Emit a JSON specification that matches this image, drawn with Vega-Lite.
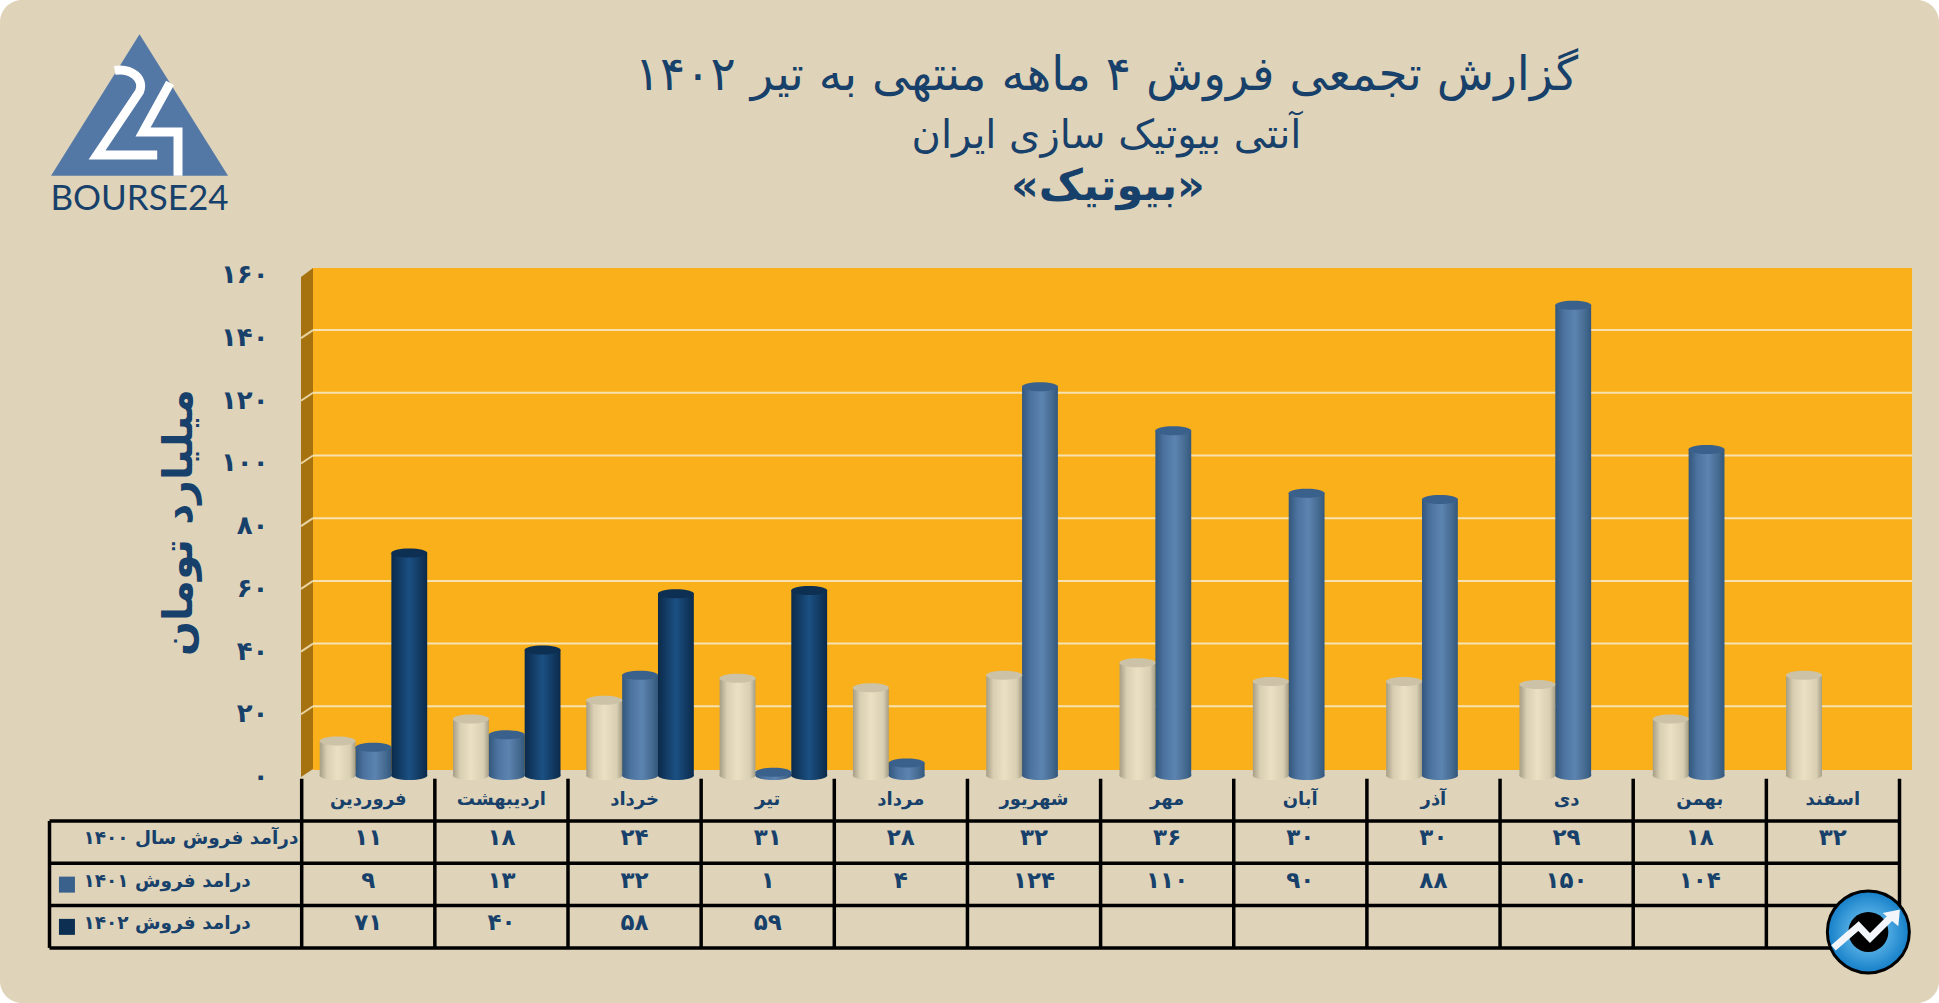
{
"$schema":"https://vega.github.io/schema/vega-lite/v6.json",
"width":1939,"height":1003,"padding":0,"autosize":{"type":"none"},
"background":"#ffffff",
"view":{"fill":"#DFD4B9","stroke":null,"cornerRadius":22},
"title":{"text":"گزارش تجمعی فروش ۴ ماهه منتهی به تیر ۱۴۰۲","subtitle":"آنتی بیوتیک سازی ایران","anchor":"middle","frame":"group","orient":"top","offset":-157,"dx":137,"font":"DejaVu Sans","fontSize":47,"fontWeight":"normal","color":"#17406A","subtitleFont":"DejaVu Sans","subtitleFontSize":40,"subtitleColor":"#17406A","subtitlePadding":16},
"datasets":{
"sales":[
{"month":"فروردین","series":"1400","value":11,"fa":"۱۱"},{"month":"اردیبهشت","series":"1400","value":18,"fa":"۱۸"},{"month":"خرداد","series":"1400","value":24,"fa":"۲۴"},{"month":"تیر","series":"1400","value":31,"fa":"۳۱"},{"month":"مرداد","series":"1400","value":28,"fa":"۲۸"},{"month":"شهریور","series":"1400","value":32,"fa":"۳۲"},{"month":"مهر","series":"1400","value":36,"fa":"۳۶"},{"month":"آبان","series":"1400","value":30,"fa":"۳۰"},{"month":"آذر","series":"1400","value":30,"fa":"۳۰"},{"month":"دی","series":"1400","value":29,"fa":"۲۹"},{"month":"بهمن","series":"1400","value":18,"fa":"۱۸"},{"month":"اسفند","series":"1400","value":32,"fa":"۳۲"},
{"month":"فروردین","series":"1401","value":9,"fa":"۹"},{"month":"اردیبهشت","series":"1401","value":13,"fa":"۱۳"},{"month":"خرداد","series":"1401","value":32,"fa":"۳۲"},{"month":"تیر","series":"1401","value":1,"fa":"۱"},{"month":"مرداد","series":"1401","value":4,"fa":"۴"},{"month":"شهریور","series":"1401","value":124,"fa":"۱۲۴"},{"month":"مهر","series":"1401","value":110,"fa":"۱۱۰"},{"month":"آبان","series":"1401","value":90,"fa":"۹۰"},{"month":"آذر","series":"1401","value":88,"fa":"۸۸"},{"month":"دی","series":"1401","value":150,"fa":"۱۵۰"},{"month":"بهمن","series":"1401","value":104,"fa":"۱۰۴"},
{"month":"فروردین","series":"1402","value":71,"fa":"۷۱"},{"month":"اردیبهشت","series":"1402","value":40,"fa":"۴۰"},{"month":"خرداد","series":"1402","value":58,"fa":"۵۸"},{"month":"تیر","series":"1402","value":59,"fa":"۵۹"}
],
"months":[{"month":"فروردین","row":"h"},{"month":"اردیبهشت","row":"h"},{"month":"خرداد","row":"h"},{"month":"تیر","row":"h"},{"month":"مرداد","row":"h"},{"month":"شهریور","row":"h"},{"month":"مهر","row":"h"},{"month":"آبان","row":"h"},{"month":"آذر","row":"h"},{"month":"دی","row":"h"},{"month":"بهمن","row":"h"},{"month":"اسفند","row":"h"}]
},
"resolve":{"scale":{"x":"independent","y":"independent"},"axis":{"x":"independent","y":"independent"}},
"layer":[
{"data":{"values":[{"c":-0.005,"t":158.2,"b":-1.3},{"c":0.085,"t":161.1,"b":1.3}]},"mark":{"type":"area","color":"#A6720F","clip":false},
"encoding":{"x":{"field":"c","type":"quantitative","axis":null,"scale":{"type":"linear","domain":[-2.2658,12.2966],"range":[0,1939],"nice":false,"zero":false}},"y":{"field":"t","type":"quantitative","axis":null,"scale":{"type":"linear","domain":[-73.37,246.57],"range":[1003,0],"nice":false,"zero":false}},"y2":{"field":"b"}}},
{"data":{"values":[{}]},"mark":{"type":"rect","color":"#FAB01A"},
"encoding":{"x":{"datum":0.085,"type":"quantitative","axis":null,"scale":{"type":"linear","domain":[-2.2658,12.2966],"range":[0,1939],"nice":false,"zero":false}},"x2":{"datum":12.094},"y":{"datum":161.1,"type":"quantitative","axis":null,"scale":{"type":"linear","domain":[-73.37,246.57],"range":[1003,0],"nice":false,"zero":false}},"y2":{"datum":0.96}}},
{"data":{"values":[{"v":20},{"v":40},{"v":60},{"v":80},{"v":100},{"v":120},{"v":140}]},"mark":{"type":"rule","color":"#F5E2B0","strokeWidth":2,"yOffset":-4},
"encoding":{"x":{"datum":0.085,"type":"quantitative","axis":null,"scale":{"type":"linear","domain":[-2.2658,12.2966],"range":[0,1939],"nice":false,"zero":false}},"x2":{"datum":12.094},"y":{"field":"v","type":"quantitative","axis":null,"scale":{"type":"linear","domain":[-73.37,246.57],"range":[1003,0],"nice":false,"zero":false}}}},
{"data":{"values":[{"v":20},{"v":40},{"v":60},{"v":80},{"v":100},{"v":120},{"v":140}]},"mark":{"type":"rule","color":"#E8D3A0","strokeWidth":2,"yOffset":4,"y2Offset":-4},
"encoding":{"x":{"datum":-0.005,"type":"quantitative","axis":null,"scale":{"type":"linear","domain":[-2.2658,12.2966],"range":[0,1939],"nice":false,"zero":false}},"x2":{"datum":0.085},"y":{"field":"v","type":"quantitative","axis":null,"scale":{"type":"linear","domain":[-73.37,246.57],"range":[1003,0],"nice":false,"zero":false}},"y2":{"field":"v"}}},
{"data":{"name":"sales"},"mark":{"type":"point","filled":true,"opacity":1,"shape":"M-1,0A1,.25 0 1,0 1,0A1,.25 0 1,0 -1,0Z","size":1296},
"encoding":{"x":{"field":"month","type":"nominal","axis":null,"scale":{"type":"band","domain":["فروردین","اردیبهشت","خرداد","تیر","مرداد","شهریور","مهر","آبان","آذر","دی","بهمن","اسفند"],"range":[301.7,1901.4],"paddingInner":0,"paddingOuter":0}},"xOffset":{"field":"series","type":"nominal","scale":{"domain":["1400","1401","1402"],"range":[18,125.5]}},"y":{"datum":0,"type":"quantitative","axis":null,"scale":{"type":"linear","domain":[-72.57,247.37],"range":[1003,0],"nice":false,"zero":false}},
"color":{"condition":[{"test":"datum.series==='1400'","value":{"gradient":"linear","x1":0,"y1":0,"x2":1,"y2":0,"stops":[{"offset":0,"color":"#A59E86"},{"offset":0.2,"color":"#D8CEB2"},{"offset":0.5,"color":"#EBE0C4"},{"offset":0.85,"color":"#D8CEB2"},{"offset":1,"color":"#A59E86"}]}},{"test":"datum.series==='1401'","value":{"gradient":"linear","x1":0,"y1":0,"x2":1,"y2":0,"stops":[{"offset":0,"color":"#33577D"},{"offset":0.25,"color":"#4D74A0"},{"offset":0.55,"color":"#5C84B0"},{"offset":0.85,"color":"#44698F"},{"offset":1,"color":"#33577D"}]}}],"value":{"gradient":"linear","x1":0,"y1":0,"x2":1,"y2":0,"stops":[{"offset":0,"color":"#0B2A4A"},{"offset":0.5,"color":"#1B5083"},{"offset":1,"color":"#0B2A4A"}]}}}},
{"data":{"name":"sales"},"mark":{"type":"bar"},
"encoding":{"x":{"field":"month","type":"nominal","axis":null,"scale":{"type":"band","domain":["فروردین","اردیبهشت","خرداد","تیر","مرداد","شهریور","مهر","آبان","آذر","دی","بهمن","اسفند"],"range":[301.7,1901.4],"paddingInner":0,"paddingOuter":0}},"xOffset":{"field":"series","type":"nominal","scale":{"domain":["1400","1401","1402"],"range":[18,125.5]}},
"y":{"field":"value","type":"quantitative","title":"میلیارد تومان","scale":{"type":"linear","domain":[-72.57,247.37],"range":[1003,0],"nice":false,"zero":false},
"axis":{"orient":"left","offset":-268,"values":[0,20,40,60,80,100,120,140,160],"grid":false,"ticks":false,"domain":false,"labelPadding":0,"labelOffset":1,"labelFont":"DejaVu Sans","labelFontSize":26,"labelFontWeight":"bold","labelColor":"#17406A","labelExpr":"replace(replace(replace(replace(replace(replace(datum.label,/0/g,'۰'),/1/g,'۱'),/2/g,'۲'),/4/g,'۴'),/6/g,'۶'),/8/g,'۸')","titleFont":"DejaVu Sans","titleFontSize":41,"titleFontWeight":"bold","titleColor":"#17406A","titleX":-89,"titleY":522,"titleAngle":-90,"titleAlign":"center","titleBaseline":"middle"}},
"y2":{"datum":0},
"color":{"condition":[{"test":"datum.series==='1400'","value":{"gradient":"linear","x1":0,"y1":0,"x2":1,"y2":0,"stops":[{"offset":0,"color":"#A59E86"},{"offset":0.2,"color":"#D8CEB2"},{"offset":0.5,"color":"#EBE0C4"},{"offset":0.85,"color":"#D8CEB2"},{"offset":1,"color":"#A59E86"}]}},{"test":"datum.series==='1401'","value":{"gradient":"linear","x1":0,"y1":0,"x2":1,"y2":0,"stops":[{"offset":0,"color":"#33577D"},{"offset":0.25,"color":"#4D74A0"},{"offset":0.55,"color":"#5C84B0"},{"offset":0.85,"color":"#44698F"},{"offset":1,"color":"#33577D"}]}}],"value":{"gradient":"linear","x1":0,"y1":0,"x2":1,"y2":0,"stops":[{"offset":0,"color":"#0B2A4A"},{"offset":0.5,"color":"#1B5083"},{"offset":1,"color":"#0B2A4A"}]}}}},
{"data":{"name":"sales"},"mark":{"type":"point","filled":true,"opacity":1,"shape":"M-1,0A1,.25 0 1,0 1,0A1,.25 0 1,0 -1,0Z","size":1296},
"encoding":{"x":{"field":"month","type":"nominal","axis":null,"scale":{"type":"band","domain":["فروردین","اردیبهشت","خرداد","تیر","مرداد","شهریور","مهر","آبان","آذر","دی","بهمن","اسفند"],"range":[301.7,1901.4],"paddingInner":0,"paddingOuter":0}},"xOffset":{"field":"series","type":"nominal","scale":{"domain":["1400","1401","1402"],"range":[18,125.5]}},"y":{"field":"value","type":"quantitative","axis":null,"scale":{"type":"linear","domain":[-72.57,247.37],"range":[1003,0],"nice":false,"zero":false}},
"color":{"field":"series","type":"nominal","legend":null,"scale":{"domain":["1400","1401","1402"],"range":["#CBC2A7","#3A618C","#0D2F52"]}}}},
{"data":{"values":[{"col":0},{"col":1},{"col":2},{"col":3},{"col":4},{"col":5},{"col":6},{"col":7},{"col":8},{"col":9},{"col":10},{"col":11},{"col":12}]},"mark":{"type":"rule","color":"#000000","strokeWidth":3.5},
"encoding":{"x":{"field":"col","type":"quantitative","axis":null,"scale":{"type":"linear","domain":[-2.2658,12.2966],"range":[0,1939],"nice":false,"zero":false}},"y":{"datum":-1,"type":"quantitative","axis":null,"scale":{"type":"linear","domain":[-19.409,4.3026],"range":[0,1003],"nice":false,"zero":false}},"y2":{"datum":3}}},
{"data":{"values":[{"r":0},{"r":1},{"r":2},{"r":3}]},"mark":{"type":"rule","color":"#000000","strokeWidth":3.5},
"encoding":{"x":{"datum":-1.894,"type":"quantitative","axis":null,"scale":{"type":"linear","domain":[-2.2658,12.2966],"range":[0,1939],"nice":false,"zero":false}},"x2":{"datum":12},"y":{"field":"r","type":"quantitative","axis":null,"scale":{"type":"linear","domain":[-19.409,4.3026],"range":[0,1003],"nice":false,"zero":false}}}},
{"data":{"values":[{}]},"mark":{"type":"rule","color":"#000000","strokeWidth":3.5},
"encoding":{"x":{"datum":-1.894,"type":"quantitative","axis":null,"scale":{"type":"linear","domain":[-2.2658,12.2966],"range":[0,1939],"nice":false,"zero":false}},"y":{"datum":0,"type":"quantitative","axis":null,"scale":{"type":"linear","domain":[-19.409,4.3026],"range":[0,1003],"nice":false,"zero":false}},"y2":{"datum":3}}},
{"data":{"name":"months"},"mark":{"type":"text","font":"DejaVu Sans","fontSize":18,"fontWeight":"bold","color":"#17406A"},
"encoding":{"x":{"field":"month","type":"nominal","axis":null,"scale":{"type":"band","domain":["فروردین","اردیبهشت","خرداد","تیر","مرداد","شهریور","مهر","آبان","آذر","دی","بهمن","اسفند"],"range":[301.7,1899.4],"paddingInner":0,"paddingOuter":0}},"y":{"field":"row","type":"nominal","axis":null,"scale":{"type":"band","domain":["h","1400","1401","1402"],"range":[779,948],"paddingInner":0,"paddingOuter":0}},"text":{"field":"month"}}},
{"data":{"name":"sales"},"mark":{"type":"text","font":"DejaVu Sans","fontSize":23,"fontWeight":"bold","color":"#17406A","yOffset":-4},
"encoding":{"x":{"field":"month","type":"nominal","axis":null,"scale":{"type":"band","domain":["فروردین","اردیبهشت","خرداد","تیر","مرداد","شهریور","مهر","آبان","آذر","دی","بهمن","اسفند"],"range":[301.7,1899.4],"paddingInner":0,"paddingOuter":0}},"y":{"field":"series","type":"nominal","axis":null,"scale":{"type":"band","domain":["h","1400","1401","1402"],"range":[779,948],"paddingInner":0,"paddingOuter":0}},"text":{"field":"fa"}}},
{"data":{"values":[{"series":"1400","label":"درآمد فروش سال ۱۴۰۰"},{"series":"1401","label":"درامد فروش ۱۴۰۱"},{"series":"1402","label":"درامد فروش ۱۴۰۲"}]},"mark":{"type":"text","align":"left","font":"DejaVu Sans","fontSize":18.5,"fontWeight":"bold","color":"#17406A","yOffset":-4},
"encoding":{"x":{"datum":-1.639,"type":"quantitative","axis":null,"scale":{"type":"linear","domain":[-2.2658,12.2966],"range":[0,1939],"nice":false,"zero":false}},"y":{"field":"series","type":"nominal","axis":null,"scale":{"type":"band","domain":["h","1400","1401","1402"],"range":[779,948],"paddingInner":0,"paddingOuter":0}},"text":{"field":"label"}}},
{"data":{"values":[{"series":"1401"},{"series":"1402"}]},"mark":{"type":"point","shape":"square","filled":true,"opacity":1,"size":256},
"encoding":{"x":{"datum":-1.763,"type":"quantitative","axis":null,"scale":{"type":"linear","domain":[-2.2658,12.2966],"range":[0,1939],"nice":false,"zero":false}},"y":{"field":"series","type":"nominal","axis":null,"scale":{"type":"band","domain":["h","1400","1401","1402"],"range":[779,948],"paddingInner":0,"paddingOuter":0}},"color":{"field":"series","type":"nominal","legend":null,"scale":{"domain":["1400","1401","1402"],"range":["#CBC2A7","#5A80AB","#0D3B66"]}}}},
{"data":{"values":[{"line":"«بیوتیک»"}]},"mark":{"type":"text","font":"DejaVu Sans","fontSize":43,"fontWeight":"bold","color":"#17406A"},
"encoding":{"x":{"datum":6.055,"type":"quantitative","axis":null,"scale":{"type":"linear","domain":[-2.2658,12.2966],"range":[0,1939],"nice":false,"zero":false}},"y":{"datum":187,"type":"quantitative","axis":null,"scale":{"type":"linear","domain":[-73.37,246.57],"range":[1003,0],"nice":false,"zero":false}},"text":{"field":"line"}}},
{"data":{"values":[{}]},"mark":{"type":"point","filled":true,"opacity":1,"color":"#5478A6","size":31329,"shape":"M0,-.8L1,.8L-1,.8Z"},
"encoding":{"x":{"datum":-1.218,"type":"quantitative","axis":null,"scale":{"type":"linear","domain":[-2.2658,12.2966],"range":[0,1939],"nice":false,"zero":false}},"y":{"datum":213.1,"type":"quantitative","axis":null,"scale":{"type":"linear","domain":[-73.37,246.57],"range":[1003,0],"nice":false,"zero":false}}}},
{"data":{"values":[{}]},"mark":{"type":"point","filled":false,"opacity":1,"stroke":"#ffffff","strokeWidth":9,"size":31329,"shape":"M-.28,-.39C-.1,-.42 .06,-.3 0,-.15L-.48,.565L.2,.565M.345,-.25L.04,.305L.435,.305L.435,.8"},
"encoding":{"x":{"datum":-1.218,"type":"quantitative","axis":null,"scale":{"type":"linear","domain":[-2.2658,12.2966],"range":[0,1939],"nice":false,"zero":false}},"y":{"datum":213.1,"type":"quantitative","axis":null,"scale":{"type":"linear","domain":[-73.37,246.57],"range":[1003,0],"nice":false,"zero":false}}}},
{"data":{"values":[{"brand":"BOURSE24"}]},"mark":{"type":"text","font":"Lato","fontSize":35,"color":"#17406A"},
"encoding":{"x":{"datum":-1.218,"type":"quantitative","axis":null,"scale":{"type":"linear","domain":[-2.2658,12.2966],"range":[0,1939],"nice":false,"zero":false}},"y":{"datum":183.1,"type":"quantitative","axis":null,"scale":{"type":"linear","domain":[-73.37,246.57],"range":[1003,0],"nice":false,"zero":false}},"text":{"field":"brand"}}},
{"data":{"values":[{}]},"mark":{"type":"point","filled":true,"opacity":1,"shape":"circle","size":6724,"stroke":"#000000","strokeWidth":3,"fill":{"gradient":"radial","x1":0.5,"y1":0.5,"r1":0.1,"x2":0.5,"y2":0.5,"r2":0.5,"stops":[{"offset":0,"color":"#6CC0EE"},{"offset":1,"color":"#157FC8"}]}},
"encoding":{"x":{"datum":11.766,"type":"quantitative","axis":null,"scale":{"type":"linear","domain":[-2.2658,12.2966],"range":[0,1939],"nice":false,"zero":false}},"y":{"datum":-50.7,"type":"quantitative","axis":null,"scale":{"type":"linear","domain":[-73.37,246.57],"range":[1003,0],"nice":false,"zero":false}}}},
{"data":{"values":[{}]},"mark":{"type":"point","filled":true,"opacity":1,"shape":"circle","size":1600,"color":"#000000"},
"encoding":{"x":{"datum":11.766,"type":"quantitative","axis":null,"scale":{"type":"linear","domain":[-2.2658,12.2966],"range":[0,1939],"nice":false,"zero":false}},"y":{"datum":-50.7,"type":"quantitative","axis":null,"scale":{"type":"linear","domain":[-73.37,246.57],"range":[1003,0],"nice":false,"zero":false}}}},
{"data":{"values":[{}]},"mark":{"type":"point","filled":false,"opacity":1,"stroke":"#F2F6FA","strokeWidth":7,"size":6724,"shape":"M-.85,.39L-.24,-.14L.04,.15L.53,-.34"},
"encoding":{"x":{"datum":11.766,"type":"quantitative","axis":null,"scale":{"type":"linear","domain":[-2.2658,12.2966],"range":[0,1939],"nice":false,"zero":false}},"y":{"datum":-50.7,"type":"quantitative","axis":null,"scale":{"type":"linear","domain":[-73.37,246.57],"range":[1003,0],"nice":false,"zero":false}}}},
{"data":{"values":[{}]},"mark":{"type":"point","filled":true,"opacity":1,"color":"#F2F6FA","size":6724,"shape":"M.77,-.55L.35,-.46L.73,-.14Z"},
"encoding":{"x":{"datum":11.766,"type":"quantitative","axis":null,"scale":{"type":"linear","domain":[-2.2658,12.2966],"range":[0,1939],"nice":false,"zero":false}},"y":{"datum":-50.7,"type":"quantitative","axis":null,"scale":{"type":"linear","domain":[-73.37,246.57],"range":[1003,0],"nice":false,"zero":false}}}}
]
}
